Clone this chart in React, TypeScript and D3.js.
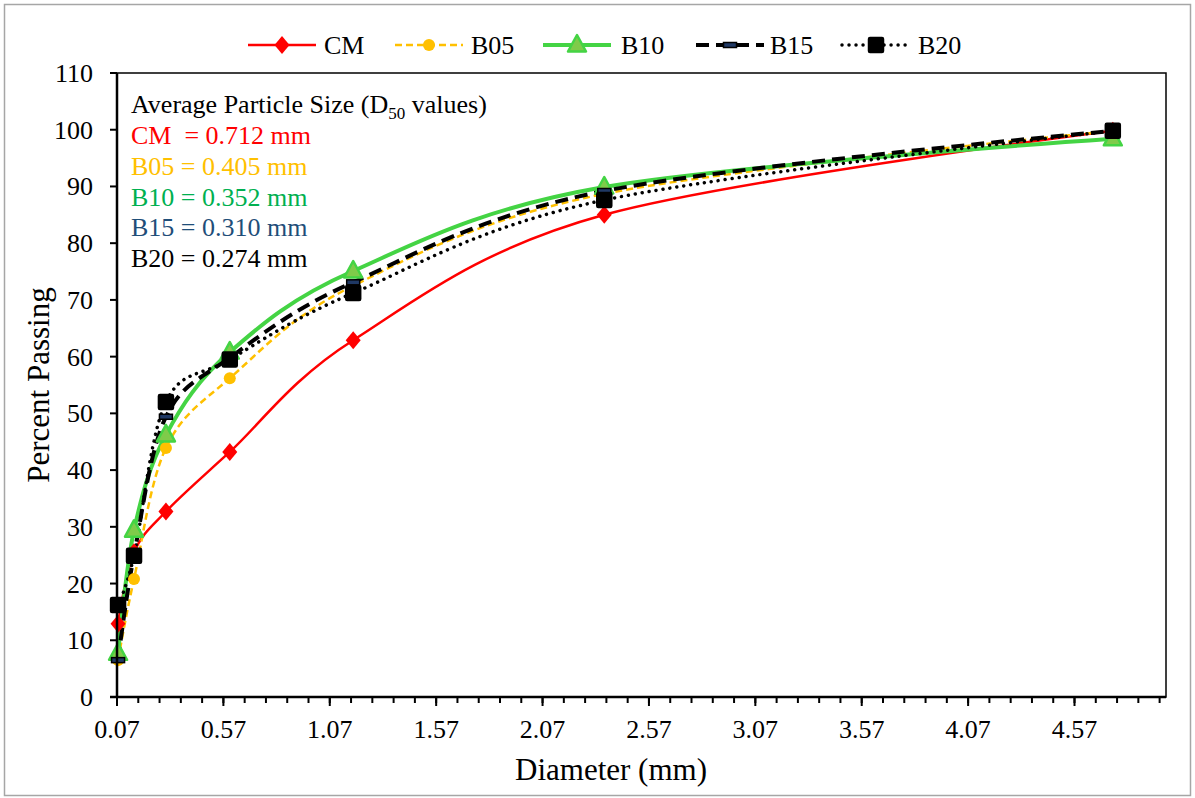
import React from "react";
import * as d3 from "d3";

// ---------- data ----------
const sieveSizes = [0.075, 0.15, 0.3, 0.6, 1.18, 2.36, 4.75];
const cmValues = [12.9, 25.5, 32.7, 43.2, 62.9, 85.0, 99.8];
const b05Values = [6.5, 20.8, 43.9, 56.2, 72.5, 88.7, 99.8];
const b10Values = [7.7, 29.4, 46.2, 60.8, 75.1, 89.9, 98.4];
const b15Values = [6.5, 25.0, 49.4, 59.8, 73.1, 89.2, 99.8];
const b20Values = [16.2, 24.9, 52.0, 59.5, 71.2, 87.6, 99.8];
const seriesNames = ["CM", "B05", "B10", "B15", "B20"];
const xTickLabels = ["0.07", "0.57", "1.07", "1.57", "2.07", "2.57", "3.07", "3.57", "4.07", "4.57"];
const yTickValues = [0, 10, 20, 30, 40, 50, 60, 70, 80, 90, 100, 110];
const d50Title = "Average Particle Size (D";
const d50Lines = ["CM  = 0.712 mm", "B05 = 0.405 mm", "B10 = 0.352 mm", "B15 = 0.310 mm", "B20 = 0.274 mm"];
const d50Colors = ["#FF0000", "#FFC000", "#00B050", "#1F4E79", "#000000"];

const W = 1195;
const H = 798;
const L = 117, R = 1166, T = 73, B = 697;
const FONT = "'Liberation Serif', 'Times New Roman', serif";

type Style = {
  name: string;
  values: number[];
  color: string;
  width: number;
  dash?: string;
  cap?: string;
  marker: string;
};

const seriesStyles: Style[] = [
  { name: seriesNames[0], values: cmValues, color: "#FF0000", width: 2.5, marker: "diamond" },
  { name: seriesNames[1], values: b05Values, color: "#FFC000", width: 2.5, dash: "7 4", marker: "circle" },
  { name: seriesNames[2], values: b10Values, color: "#44D444", width: 4, marker: "triangle" },
  { name: seriesNames[3], values: b15Values, color: "#000000", width: 4, dash: "13 7", marker: "dash" },
  { name: seriesNames[4], values: b20Values, color: "#000000", width: 3.5, dash: "0.01 7", cap: "round", marker: "square" },
];

function Marker({ type, x, y }: { type: string; x: number; y: number }) {
  switch (type) {
    case "diamond":
      return <path d={`M${x},${y - 9} L${x + 7.5},${y} L${x},${y + 9} L${x - 7.5},${y} Z`} fill="#FF0000" />;
    case "circle":
      return <circle cx={x} cy={y} r={6} fill="#FFC000" />;
    case "triangle":
      return (
        <path d={`M${x},${y - 10} L${x + 9},${y + 6.5} L${x - 9},${y + 6.5} Z`} fill="#7FCB4A" stroke="#44D444" strokeWidth={2.5} strokeLinejoin="round" />
      );
    case "dash":
      return <rect x={x - 6.5} y={y - 2.5} width={13} height={5} fill="#1F3864" stroke="#000" strokeWidth={1.5} />;
    case "square":
      return <rect x={x - 7.5} y={y - 7.5} width={15} height={15} rx={1.5} fill="#000" stroke="#000" strokeWidth={1.5} />;
    default:
      return null;
  }
}

export default function App() {
  const x = d3.scaleLinear().domain([0.07, 5.0]).range([L, R]);
  const y = d3.scaleLinear().domain([0, 110]).range([B, T]);
  const line = d3
    .line<[number, number]>()
    .x((d) => x(d[0]))
    .y((d) => y(d[1]))
    .curve(d3.curveCardinal.tension(0));

  const minorTicks = d3.range(0, 50).map((k) => 0.07 + k * 0.1);
  const majorTicks = xTickLabels.map((t) => +t);

  const legendItems = [
    { lx: 248, tx: 324 },
    { lx: 395, tx: 471 },
    { lx: 543, tx: 621 },
    { lx: 696, tx: 770 },
    { lx: 842, tx: 918 },
  ];
  const legendLen = 68;
  const legendY = 45;

  return (
    <svg
      width={W}
      height={H}
      style={{ position: "absolute", left: 0, top: 0, background: "#fff" }}
      fontFamily={FONT}
    >
      <rect x={0} y={0} width={W} height={H} fill="#fff" />
      <rect x={4.5} y={4.5} width={W - 9} height={H - 7} fill="none" stroke="#A6A6A6" strokeWidth={1.5} />

      {/* legend */}
      {seriesStyles.map((s, i) => {
        const it = legendItems[i];
        return (
          <g key={s.name}>
            <line
              x1={it.lx}
              x2={it.lx + legendLen}
              y1={legendY}
              y2={legendY}
              stroke={s.color}
              strokeWidth={s.width}
              strokeDasharray={s.dash}
              strokeLinecap={(s.cap as any) || "butt"}
            />
            <Marker type={s.marker} x={it.lx + legendLen / 2} y={legendY} />
            <text x={it.tx} y={legendY + 9} fontSize={26} fill="#000">
              {s.name}
            </text>
          </g>
        );
      })}

      {/* plot area border */}
      <rect x={L} y={T} width={R - L} height={B - T} fill="none" stroke="#000" strokeWidth={1.5} />

      {/* series */}
      {seriesStyles.map((s) => {
        const pts = sieveSizes.map((d, i) => [d, s.values[i]] as [number, number]);
        return (
          <path
            key={"l" + s.name}
            d={line(pts) || ""}
            fill="none"
            stroke={s.color}
            strokeWidth={s.width}
            strokeDasharray={s.dash}
            strokeLinecap={(s.cap as any) || "butt"}
          />
        );
      })}
      {seriesStyles.map((s) => (
        <g key={"m" + s.name}>
          {sieveSizes.map((d, i) => (
            <Marker key={i} type={s.marker} x={x(d)} y={y(s.values[i])} />
          ))}
        </g>
      ))}

      {/* axes */}
      <line x1={L} x2={L} y1={T} y2={B} stroke="#000" strokeWidth={2.5} />
      <line x1={L - 7} x2={R} y1={B} y2={B} stroke="#000" strokeWidth={2.5} />
      {yTickValues.map((v) => (
        <g key={"y" + v}>
          <line x1={L - 7} x2={L} y1={y(v)} y2={y(v)} stroke="#000" strokeWidth={2} />
          <text x={93} y={y(v) + 9} fontSize={26} textAnchor="end" fill="#000">
            {v}
          </text>
        </g>
      ))}
      {minorTicks.map((v, i) => (
        <line key={"mt" + i} x1={x(v)} x2={x(v)} y1={B} y2={B + 6} stroke="#000" strokeWidth={2} />
      ))}
      {majorTicks.map((v, i) => (
        <g key={"xt" + i}>
          <line x1={x(v)} x2={x(v)} y1={B} y2={B + 9} stroke="#000" strokeWidth={2} />
          <text x={x(v)} y={738} fontSize={26} textAnchor="middle" fill="#000">
            {xTickLabels[i]}
          </text>
        </g>
      ))}

      {/* axis titles */}
      <text x={611} y={780} fontSize={31} textAnchor="middle" fill="#000">
        Diameter (mm)
      </text>
      <text transform={`translate(49,385) rotate(-90)`} fontSize={31} textAnchor="middle" fill="#000">
        Percent Passing
      </text>

      {/* D50 annotation */}
      <text x={131} y={113} fontSize={26} fill="#000">
        {d50Title}
        <tspan fontSize={17} dy={6}>50</tspan>
        <tspan dy={-6}> values)</tspan>
      </text>
      {d50Lines.map((t, i) => (
        <text key={t} x={131} y={144 + i * 30.8} fontSize={26} fill={d50Colors[i]} style={{ whiteSpace: "pre" }}>
          {t}
        </text>
      ))}
    </svg>
  );
}
